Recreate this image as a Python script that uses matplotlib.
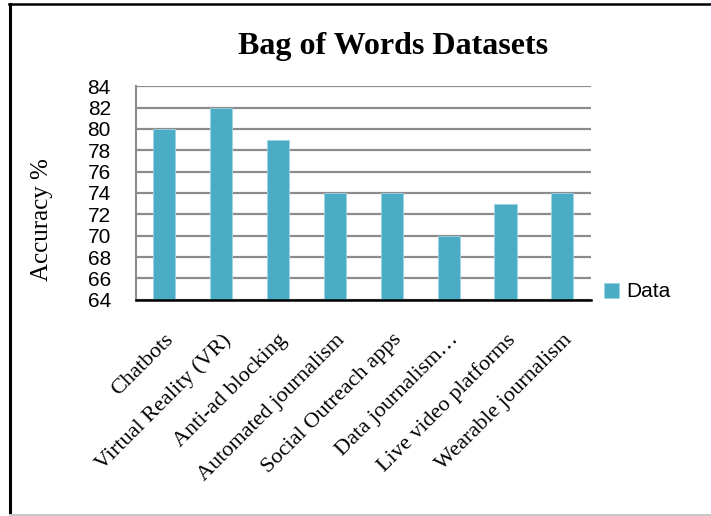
import matplotlib
matplotlib.use("Agg")
import matplotlib.pyplot as plt
import numpy as np
from matplotlib.lines import Line2D

categories = ["Chatbots", "Virtual Reality (VR)", "Anti-ad blocking",
              "Automated journalism", "Social Outreach apps",
              "Data journalism…", "Live video platforms", "Wearable journalism"]
accuracy = [80, 82, 79, 74, 74, 70, 73, 74]
yticks = np.arange(64, 85, 2)

fig = plt.figure(figsize=(7.11, 5.16), dpi=100)
ax = fig.add_axes([0.191, 0.419, 0.640, 0.414])

x = np.arange(len(categories))
ax.bar(x, accuracy, width=0.39, color="#4BACC6", edgecolor="#9fd3e3", lw=0.6,
       label="Data", zorder=3)

ax.set_ylim(64, 84)
ax.set_xlim(-0.5, len(categories) - 0.5)
ax.set_yticks(yticks)
ax.set_yticklabels([str(v) for v in yticks], fontsize=15, family="Liberation Sans")
ax.grid(axis="y", color="#8c8c8c", lw=1.6, zorder=0)
ax.tick_params(axis="y", length=0, pad=18)
ax.tick_params(axis="x", length=0, pad=22)

ax.set_xticks(x)
ax.set_xticklabels(categories, rotation=45, ha="right", rotation_mode="anchor",
                   fontsize=16, family="Liberation Serif")

for s in ["top", "right"]:
    ax.spines[s].set_visible(False)
ax.spines["left"].set_color("#8c8c8c")
ax.spines["left"].set_linewidth(1.5)
ax.spines["bottom"].set_color("black")
ax.spines["bottom"].set_linewidth(1.8)
ax.spines["bottom"].set_zorder(4)

ax.set_ylabel("Accuracy %", fontsize=18, family="Liberation Serif")
ax.yaxis.set_label_coords(-0.183, 0.374)

fig.text(0.553, 0.909, "Bag of Words Datasets", ha="center", va="center",
         fontsize=23, fontweight="bold", family="Liberation Serif")

ax.legend(loc="center left", bbox_to_anchor=(1.029, 0.037), frameon=False,
          borderaxespad=0, borderpad=0,
          prop={"family": "Liberation Sans", "size": 15},
          handlelength=0.72, handleheight=0.72, handletextpad=0.34)

# cadre : gauche et haut en noir, bas en gris clair
fig.add_artist(Line2D([0.0141, 0.0141], [0.0, 0.9913], transform=fig.transFigure,
                      color="black", lw=2.2))
fig.add_artist(Line2D([0.0125, 1.0], [0.9913, 0.9913], transform=fig.transFigure,
                      color="black", lw=1.8))
fig.add_artist(Line2D([0.0141, 1.0], [0.002, 0.002], transform=fig.transFigure,
                      color="#c8c8c8", lw=1.5))

fig.savefig("out.png", dpi=100)
